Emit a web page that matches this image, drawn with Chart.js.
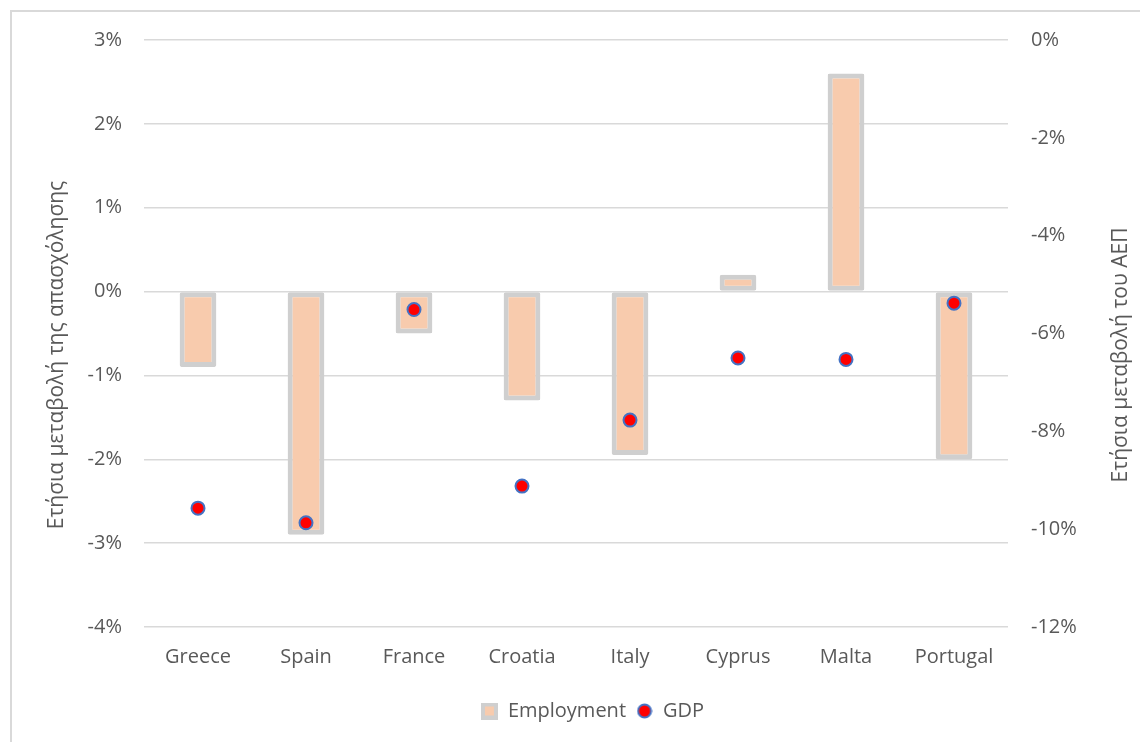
<!DOCTYPE html>
<html>
<head>
<meta charset="utf-8">
<script src="https://cdn.jsdelivr.net/npm/chart.js@4"></script>
<style>
  html, body { margin: 0; padding: 0; background: #fff; overflow: hidden; }
  #frame { position: absolute; left: 10px; top: 10px; width: 1200px; height: 800px; border: 2px solid #d9d9d9; }
  #chart { position: absolute; left: 0; top: 0; }
</style>
</head>
<body>
<div id="frame"></div>
<canvas id="chart" width="1140" height="742"></canvas>
<script>
const countries = ["Greece", "Spain", "France", "Croatia", "Italy", "Cyprus", "Malta", "Portugal"];
const employment = [-0.9, -2.9, -0.5, -1.3, -1.95, 0.2, 2.6, -2.0];
const gdp = [-9.57, -9.87, -5.51, -9.12, -7.77, -6.5, -6.53, -5.38];
const leftTitle = "Ετήσια μεταβολή της απασχόλησης";
const rightTitle = "Ετήσια μεταβολή του ΑΕΠ";

Chart.defaults.font.family = "'Open Sans', 'Noto Sans', sans-serif";
Chart.defaults.font.size = 20;
Chart.defaults.color = '#595959';

/// Small legend icons, drawn once
function makeIcon(size, draw) {
    const c = document.createElement('canvas');
    c.width = size;
    c.height = size;
    draw(c.getContext('2d'));
    return c;
}
const empIcon = makeIcon(17, (g) => {
    g.fillStyle = '#CFCFCF';
    g.fillRect(0, 0, 17, 17);
    g.fillStyle = '#F8CBAD';
    g.fillRect(4, 4, 9, 9);
});
const gdpIcon = makeIcon(16, (g) => {
    g.beginPath();
    g.arc(8, 8, 6.5, 0, Math.PI * 2);
    g.fillStyle = '#FF0000';
    g.fill();
    g.lineWidth = 2;
    g.strokeStyle = '#4472C4';
    g.stroke();
});

/// Draw both axis titles reading bottom to top, like the original
const axisTitles = {
    id: 'axisTitles',
    afterDraw(chart) {
        const ctx = chart.ctx;
        ctx.save();
        ctx.font = "21px 'Open Sans', 'Noto Sans', sans-serif";
        ctx.fillStyle = '#595959';
        ctx.textAlign = 'center';
        ctx.textBaseline = 'middle';
        [[57, leftTitle], [1121, rightTitle]].forEach(([x, text]) => {
            ctx.save();
            ctx.translate(x, 355);
            ctx.rotate(-Math.PI / 2);
            ctx.fillText(text, 0, 0);
            ctx.restore();
        });
        ctx.restore();
    }
};

const chart = new Chart("chart", {
    type: "bar",
    data: {
        labels: countries,
        datasets: [
            {
                label: "Employment",
                data: employment,
                yAxisID: 'y',
                backgroundColor: "#F8CBAD",
                borderColor: "#CFCFCF",
                borderWidth: 5,
                borderSkipped: false,
                borderRadius: 2,
                categoryPercentage: 1,
                barPercentage: 0.34,
                order: 1
            },
            {
                type: "line",
                label: "GDP",
                data: gdp,
                yAxisID: 'y1',
                showLine: false,
                pointRadius: 6.5,
                pointHoverRadius: 6.5,
                pointBorderWidth: 2,
                pointBackgroundColor: "#FF0000",
                pointBorderColor: "#4472C4",
                backgroundColor: "#FF0000",
                borderColor: "#4472C4",
                order: 0
            }
        ]
    },
    options: {
        responsive: false,
        animation: false,
        devicePixelRatio: 1,
        layout: {
            padding: { left: 45, right: 0, top: 40, bottom: 11 }
        },
        plugins: {
            tooltip: { enabled: false },
            legend: {
                position: 'bottom',
                labels: {
                    usePointStyle: true,
                    boxWidth: 17,
                    boxHeight: 17,
                    padding: 10,
                    font: { size: 20 },
                    sort: (a, b) => a.datasetIndex - b.datasetIndex,
                    generateLabels: (chart) => {
                        const items = Chart.defaults.plugins.legend.labels.generateLabels(chart);
                        items.forEach((it) => {
                            it.pointStyle = it.datasetIndex === 0 ? empIcon : gdpIcon;
                        });
                        return items;
                    }
                }
            }
        },
        scales: {
            x: {
                grid: { display: false, drawTicks: false },
                border: { display: false },
                ticks: { padding: 18 },
                afterFit: (scale) => { scale.height = 64; }
            },
            y: {
                position: 'left',
                min: -4,
                max: 3,
                grid: { color: '#D9D9D9', lineWidth: 1.5, drawTicks: false },
                border: { display: false },
                ticks: {
                    stepSize: 1,
                    padding: 22,
                    callback: (v) => v + '%'
                },
                afterFit: (scale) => { scale.width = 99; }
            },
            y1: {
                position: 'right',
                min: -12,
                max: 0,
                grid: { display: false, drawTicks: false },
                border: { display: false },
                ticks: {
                    stepSize: 2,
                    padding: 23,
                    callback: (v) => v + '%'
                },
                afterFit: (scale) => { scale.width = 132; }
            }
        }
    },
    plugins: [axisTitles]
});
</script>
</body>
</html>
